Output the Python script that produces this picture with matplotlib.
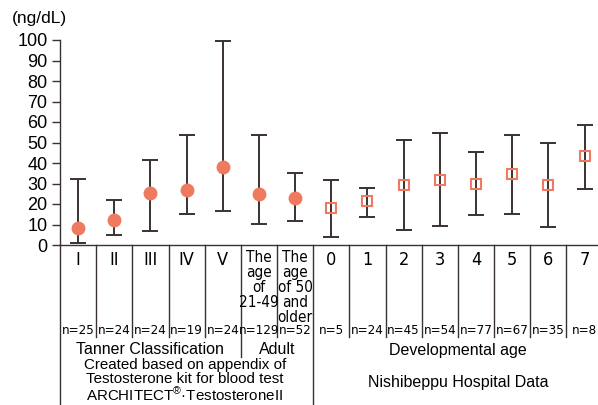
#!/usr/bin/env python3

import matplotlib as mpl
import matplotlib.pyplot as plt
import matplotlib.font_manager as fm
from matplotlib import transforms
mpl.use("Agg")

categories = ["I", "II", "III", "IV", "V",
              "The\nage\nof\n21-49", "The\nage\nof 50\nand\nolder",
              "0", "1", "2", "3", "4", "5", "6", "7"]
means = [8.5, 12.0, 25.4, 26.8, 38.2, 24.7, 23.1,
         18.2, 21.5, 29.1, 31.9, 29.8, 34.6, 29.1, 43.6]
upper = [32.3, 22.1, 41.6, 53.8, 99.3, 53.8, 35.3,
         31.7, 27.6, 51.1, 54.6, 45.5, 53.8, 49.8, 58.7]
lower = [0.8, 5.0, 7.0, 15.3, 16.6, 10.4, 11.9,
         4.1, 13.7, 7.5, 9.4, 14.5, 15.3, 8.9, 27.5]
n_counts = [25, 24, 24, 19, 24, 129, 52, 5, 24, 45, 54, 77, 67, 35, 8]
# first 7 are reference (kit appendix), rest are hospital data
n_reference = 7

W, H = 598, 405


def find_narrow():
    # look for some condensed sans face; fall back to regular
    best = None
    for f in fm.fontManager.ttflist:
        if f.style != "normal" or f.weight not in (400, "normal", "regular"):
            continue
        cond = ("Narrow" in f.name or "Condensed" in f.name
                or f.stretch in ("condensed", "semi-condensed", 500 - 125, 500 - 250))
        if not cond:
            continue
        rank = 0 if "Liberation" in f.name else (1 if "DejaVu Sans" == f.name else 2)
        if best is None or rank < best[0]:
            best = (rank, f.fname)
    return best[1] if best else None


def main():
    mpl.rcParams["font.family"] = ["Liberation Sans", "DejaVu Sans"]
    mpl.rcParams["mathtext.fontset"] = "custom"
    mpl.rcParams["mathtext.rm"] = "Liberation Sans"
    mpl.rcParams["mathtext.it"] = "Liberation Sans"

    narrow_path = find_narrow()

    def nfont(size):
        if narrow_path:
            return fm.FontProperties(fname=narrow_path, size=size)
        return fm.FontProperties(family="Liberation Sans", size=size * 0.9)

    fig = plt.figure(figsize=(W / 100, H / 100), dpi=100)
    ax_left, ax_bot, ax_top = 60, 245, 40
    ax_w = 542.6
    ax = fig.add_axes([ax_left / W, 1 - ax_bot / H, ax_w / W, (ax_bot - ax_top) / H])

    x = list(range(len(categories)))
    err_lo = [m - l for m, l in zip(means, lower)]
    err_hi = [u - m for m, u in zip(means, upper)]
    ink = "#3a3232"
    coral = "#ee7b5f"

    ax.errorbar(x, means, yerr=[err_lo, err_hi], fmt="none", ecolor=ink,
                elinewidth=1.4, capsize=5.5, capthick=1.4, clip_on=False, zorder=2)
    ax.plot(x[:n_reference], means[:n_reference], "o", ms=9, color=coral,
            mec=coral, clip_on=False, zorder=3)
    ax.plot(x[n_reference:], means[n_reference:], "s", ms=7.5, mfc="none",
            mec=coral, mew=1.5, clip_on=False, zorder=3)

    ax.set_xlim(-0.5, len(categories) - 0.5)
    ax.set_ylim(0, 100)
    ax.set_yticks(range(0, 101, 10))
    ax.tick_params(axis="y", labelsize=13, length=6, width=1, color=ink, pad=3)
    ax.set_xticks([])
    for s in ["top", "right"]:
        ax.spines[s].set_visible(False)
    ax.spines["left"].set_color(ink)
    ax.spines["bottom"].set_color(ink)
    ax.spines["left"].set_linewidth(1)
    ax.spines["bottom"].set_linewidth(1)

    fig.text(12 / W, 1 - 19 / H, "(ng/dL)", fontsize=12.5, ha="left", va="center")

    # table below the axis: x in data units, y in pixels from the top
    trans = transforms.blended_transform_factory(ax.transData, fig.transFigure)

    def fy(p):
        return 1 - p / H

    def vline(xv, p0, p1):
        ax.plot([xv, xv], [fy(p0), fy(p1)], color=ink, lw=1, transform=trans,
                clip_on=False)

    vline(-0.5, ax_bot, H)
    for i in range(1, len(categories)):
        xv = i - 0.5
        if i == n_reference:
            vline(xv, ax_bot, H)
        elif i == 5:
            vline(xv, ax_bot, 357)
        else:
            vline(xv, ax_bot, 337)

    for i, lab in enumerate(categories):
        if "\n" in lab:
            ax.text(i, fy(250), lab, transform=trans, ha="center", va="top",
                    fontproperties=nfont(11), linespacing=1.0)
        else:
            ax.text(i, fy(251), lab, transform=trans, ha="center", va="top",
                    fontproperties=nfont(13))
        ax.text(i, fy(331), "n=%d" % n_counts[i], transform=trans, ha="center",
                va="center", fontproperties=nfont(9.5))

    ax.text(2, fy(350), "Tanner Classification", transform=trans, ha="center",
            va="center", fontsize=11.5)
    ax.text(5.5, fy(350), "Adult", transform=trans, ha="center",
            va="center", fontsize=11.5)
    ax.text(10.5, fy(350), "Developmental age", transform=trans, ha="center",
            va="center", fontsize=11.5)
    ax.text(2.95, fy(381), "Created based on appendix of\nTestosterone kit for blood test\n"
            "ARCHITECT$^{\u00ae}$\u00b7TestosteroneII", transform=trans, ha="center",
            va="center", fontsize=10.9, linespacing=1.02)
    ax.text(10.5, fy(382), "Nishibeppu Hospital Data", transform=trans,
            ha="center", va="center", fontsize=11.5)

    fig.savefig("out.png", dpi=100)
    plt.close()


if __name__ == "__main__":
    main()
